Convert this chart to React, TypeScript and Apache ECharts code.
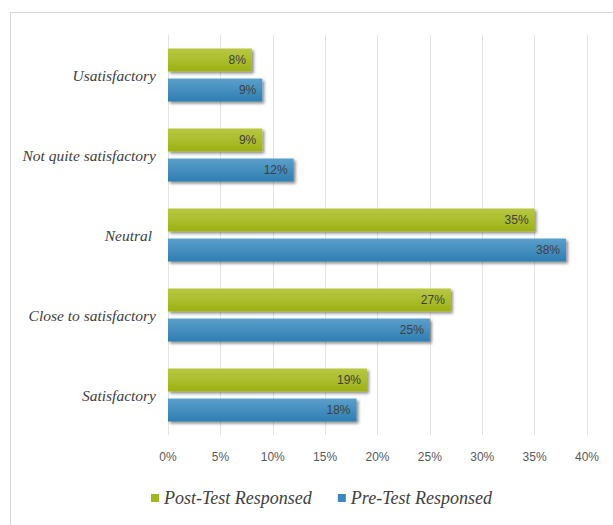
import React, { useEffect, useRef } from "react";
import * as echarts from "echarts";

const categories = ["Usatisfactory", "Not quite satisfactory", "Neutral ", "Close to satisfactory", "Satisfactory"];
const postTest = [8, 9, 35, 27, 19];
const preTest = [9, 12, 38, 25, 18];
const seriesNames = ["Post-Test Responsed", "Pre-Test Responsed"];

export default function App() {
  const ref = useRef<HTMLDivElement>(null);
  useEffect(() => {
    document.body.style.margin = "0";
    const chart = echarts.init(ref.current!, null, { renderer: "svg" });
    const green = new echarts.graphic.LinearGradient(0, 0, 0, 1, [
      { offset: 0, color: "#b8c843" },
      { offset: 1, color: "#9db115" },
    ]);
    const blue = new echarts.graphic.LinearGradient(0, 0, 0, 1, [
      { offset: 0, color: "#5c9fcb" },
      { offset: 1, color: "#2e7eb2" },
    ]);
    const label = {
      show: true,
      position: "insideRight" as const,
      formatter: "{c}%",
      color: "#404040",
      fontSize: 12,
      fontFamily: "Liberation Sans",
      distance: 6,
    };
    chart.setOption({
      animation: false,
      graphic: [
        {
          type: "rect",
          shape: { x: 10.5, y: 12.5, width: 620, height: 540 },
          style: { fill: "none", stroke: "#d9d9d9", lineWidth: 1 },
          silent: true,
        },
      ],
      grid: { left: 168, right: 26, top: 35, bottom: 90 },
      xAxis: {
        type: "value",
        min: 0,
        max: 40,
        interval: 5,
        axisLabel: {
          formatter: "{value}%",
          color: "#595959",
          fontSize: 12,
          fontFamily: "Liberation Sans",
          margin: 16,
        },
        splitLine: { show: true, lineStyle: { color: "#e3e3e3" } },
        axisLine: { show: false },
        axisTick: { show: false },
      },
      yAxis: {
        type: "category",
        inverse: true,
        data: categories,
        axisLabel: {
          color: "#404040",
          fontSize: 15.5,
          fontStyle: "italic",
          fontFamily: "Liberation Serif",
          margin: 12,
        },
        axisLine: { show: false },
        axisTick: { show: false },
      },
      legend: {
        bottom: 13,
        left: 146,
        itemWidth: 8,
        itemHeight: 8,
        itemGap: 26,
        icon: "rect",
        textStyle: {
          color: "#404040",
          fontSize: 18,
          fontStyle: "italic",
          fontFamily: "Liberation Serif",
        },
        data: [
          { name: seriesNames[0], itemStyle: { color: "#a4b61f" } },
          { name: seriesNames[1], itemStyle: { color: "#3a88bd" } },
        ],
      },
      series: [
        {
          name: seriesNames[0],
          type: "bar",
          data: postTest,
          barWidth: 23,
          barGap: "30%",
          itemStyle: {
            color: green,
            shadowColor: "rgba(0,0,0,0.45)",
            shadowBlur: 3,
            shadowOffsetX: 2,
            shadowOffsetY: 2,
          },
          label,
        },
        {
          name: seriesNames[1],
          type: "bar",
          data: preTest,
          barWidth: 23,
          barGap: "30%",
          itemStyle: {
            color: blue,
            shadowColor: "rgba(0,0,0,0.45)",
            shadowBlur: 3,
            shadowOffsetX: 2,
            shadowOffsetY: 2,
          },
          label,
        },
      ],
    });
    return () => chart.dispose();
  }, []);
  return <div ref={ref} style={{ width: 613, height: 525 }} />;
}
